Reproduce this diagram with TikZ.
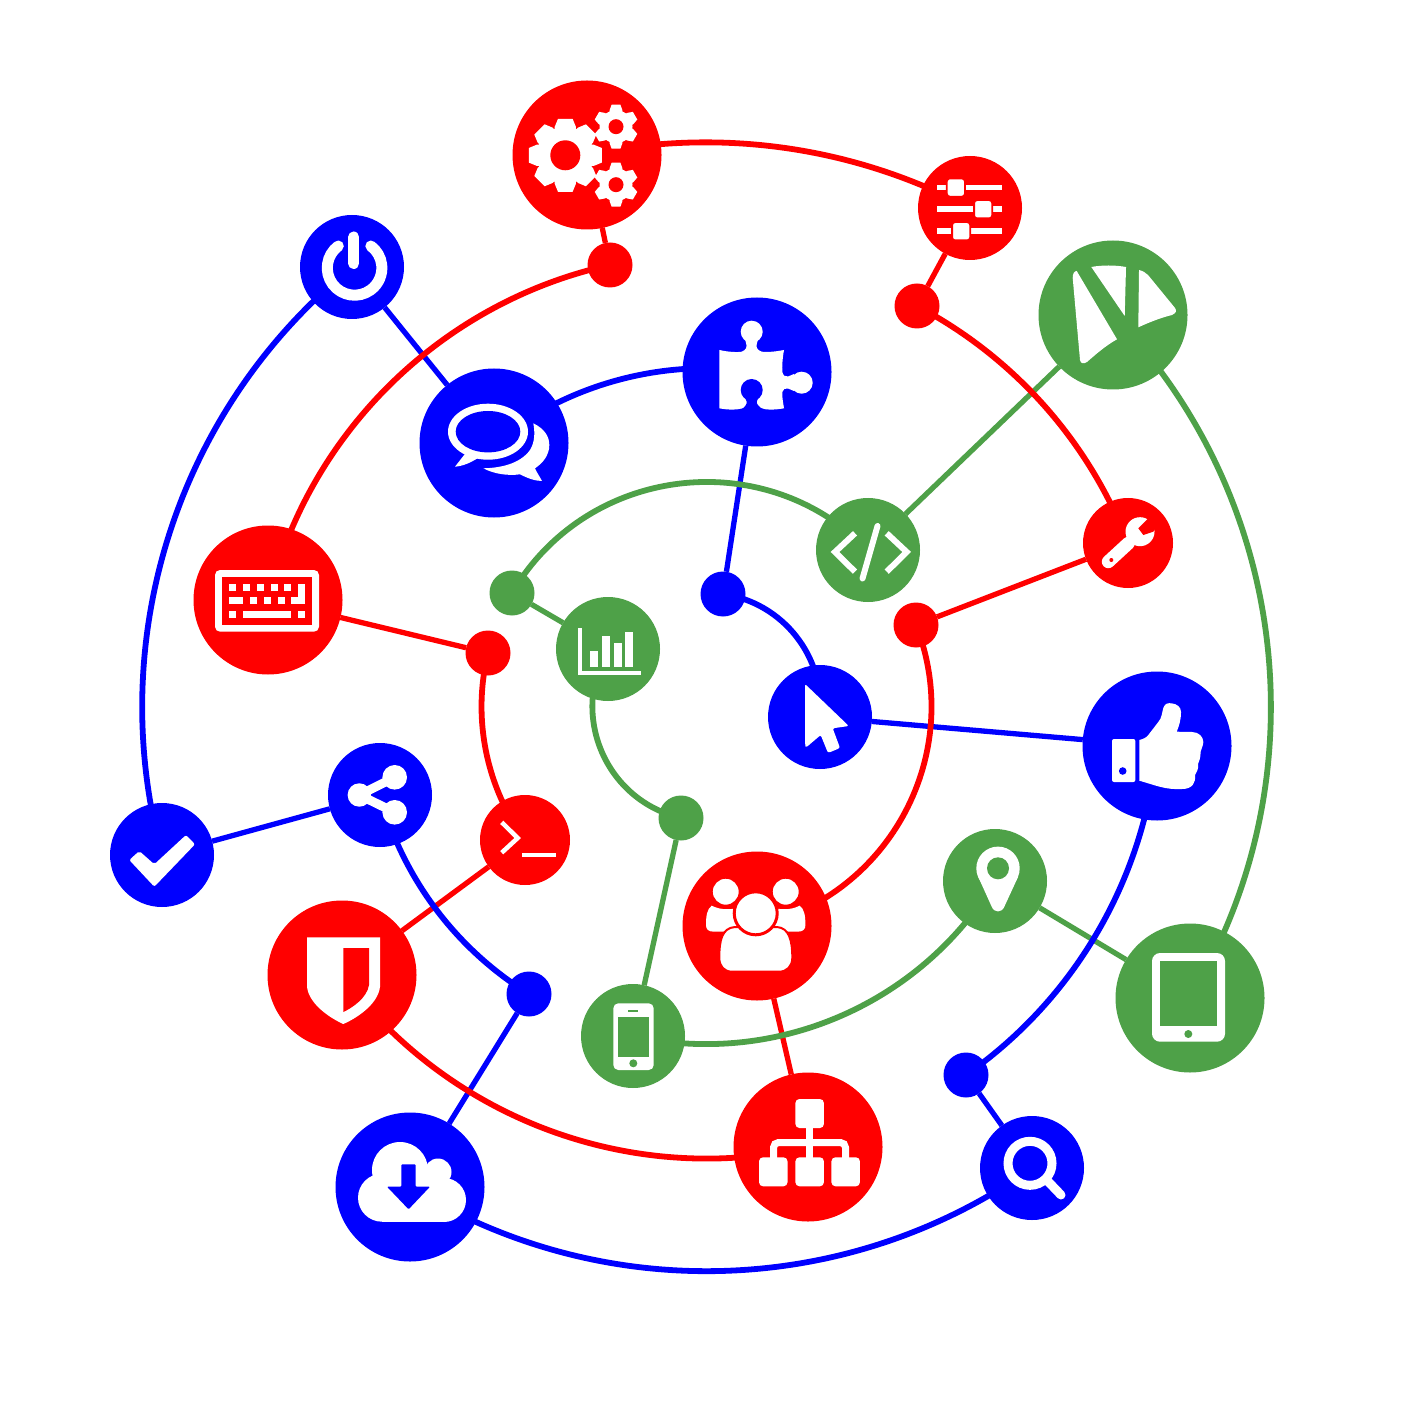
\documentclass[tikz,border=0pt]{standalone}
\usepackage{xcolor}
\usepackage{tikz}
\usetikzlibrary{backgrounds}
\definecolor{hubgreen}{HTML}{4EA148}
\def\pxw{0.5pt}
\tikzset{
	hub/.style={circle, inner sep=0pt, outer sep=0pt, draw=none, fill=#1},
	hubbig/.style={hub=#1, minimum size=149*\pxw},
	hubmid/.style={hub=#1, minimum size=104*\pxw},
	hubsmall/.style={hub=#1, minimum size=90*\pxw},
	hubdot/.style={hub=#1, minimum size=45*\pxw},
	wire/.style={draw=#1, line width=5.3*\pxw},
	orbit/.style={draw=#1, line width=5.8*\pxw},
	icon/.style={fill=white, draw=none},
	iconline/.style={draw=white, line width=#1*\pxw}
}
\newcommand{\cog}[6]{
	\begin{scope}[shift={(#1,#2)}]
		\fill[icon] (0,0) circle [radius=#3];
		\foreach \t in {0,#6,...,359}
			\fill[icon, rotate=\t] ({-0.29*#4},{-#3+3}) -- ({-0.29*#4},-#3) -- ({-0.2*#4},-#4) -- ({0.2*#4},-#4) -- ({0.29*#4},-#3) -- ({0.29*#4},{-#3+3}) -- cycle;
		\fill[red] (0,0) circle [radius=#5];
	\end{scope}
}
\begin{document}
\begin{tikzpicture}[x=0.5pt, y=-0.5pt]
\useasboundingbox (0,0) rectangle (1415,1416);
\foreach \name/\col/\x/\y in {gears/red/587/155, vivaldi/hubgreen/1113/315, chat/blue/494/443, puzzle/blue/757/372, keyboard/red/268/600, thumbs/blue/1157/746, shield/red/342/975, people/red/757/926, tablet/hubgreen/1190/998, download/blue/410/1187, sitemap/red/808/1147}
	\node[hubbig=\col] (\name) at (\x,\y) {};
\foreach \name/\col/\x/\y in {sliders/red/970/208, power/blue/352/267, code/hubgreen/868/550, chart/hubgreen/608/649, cursor/blue/820/717, check/blue/162/855, share/blue/380/795, phone/hubgreen/633/1036, pin/hubgreen/995/881, search/blue/1032/1168}
	\node[hubmid=\col] (\name) at (\x,\y) {};
\foreach \name/\col/\x/\y in {wrench/red/1128/543, terminal/red/525/840}
	\node[hubsmall=\col] (\name) at (\x,\y) {};
\foreach \name/\col/\x/\y in {gearsdot/red/610/265, slidersdot/red/917/306, wrenchdot/red/916/625, keyboarddot/red/488/653, chartdot/hubgreen/512/593, cursordot/blue/723/594, phonedot/hubgreen/681/818, downloaddot/blue/529/994, searchdot/blue/966/1075}
	\node[hubdot=\col] (\name) at (\x,\y) {};
\begin{scope}[on background layer]
\fill[white] (0,0) rectangle (1415,1416);
\foreach \a/\b/\col in {power/chat/blue, puzzle/cursordot/blue, cursor/thumbs/blue, check/share/blue, downloaddot/download/blue, searchdot/search/blue, gears/gearsdot/red, sliders/slidersdot/red, wrench/wrenchdot/red, keyboard/keyboarddot/red, terminal/shield/red, people/sitemap/red, chart/chartdot/hubgreen, code/vivaldi/hubgreen, pin/tablet/hubgreen, phone/phonedot/hubgreen}
	\draw[wire=\col] (\a) -- (\b);
\foreach \a/\b/\arcspan/\col in {check/power/66.3/blue, gears/sliders/40.1/red, vivaldi/tablet/75.1/hubgreen, search/download/66.9/blue, keyboard/gearsdot/63.9/red, slidersdot/wrench/41.1/red, thumbs/searchdot/49.9/blue, sitemap/shield/66.6/red, chat/puzzle/47.4/blue, downloaddot/share/43.1/blue, pin/phone/71.6/hubgreen, chartdot/code/105.4/hubgreen, wrenchdot/people/98.5/red, terminal/keyboarddot/50/red, phonedot/chart/107.2/hubgreen, cursordot/cursor/87/blue} {
	\pgfmathsetmacro\halfspan{\arcspan/2}
	\pgfmathsetmacro\loose{4/3*tan(\arcspan/4)/(2*sin(\arcspan/2))/0.3915}
	\draw[orbit=\col] (\a.center) to[bend left=\halfspan, looseness=\loose] (\b.center);
}
\end{scope}
\cog{565.3}{155.3}{28.5}{36.5}{15}{45}
\cog{616}{126.7}{16.5}{22}{7.5}{60}
\cog{616}{184.7}{16.5}{22}{7.5}{60}
\foreach \y in {187.7,209.3,231}
	\fill[icon] (937,\y-2.8) rectangle (1002,\y+2.8);
\foreach \x/\y in {947.7/179.3, 975/201, 953/223}
	\filldraw[fill=white, draw=red, line width=0.9pt, rounded corners=1.5pt] (\x-0.9,\y-0.9) rectangle (\x+17.2,\y+17.4);
\fill[icon] (1072.7,278) .. controls (1072.7,274) and (1074,271) .. (1076.7,271) -- (1117,339.3) .. controls (1105,346) and (1095,355) .. (1087,362) .. controls (1084,364) and (1080.5,364) .. (1080,360) -- cycle;
\fill[icon] (1091.3,267) .. controls (1102,265) and (1115,265) .. (1126,267) -- (1124.7,316) -- cycle;
\fill[icon] (1139,270) .. controls (1143,271) and (1146,273) .. (1148,275) -- (1175,308) .. controls (1177,311) and (1176,313) .. (1172,315) .. controls (1160,318) and (1150,322) .. (1138.3,327.3) -- cycle;
\draw[iconline=11, line cap=round] (338.3,246) arc [start angle=233.4, end angle=-53.4, radius=27.3, x radius=27.3, y radius=27.3];
\draw[iconline=11, line cap=round] (353.7,237) -- (353.7,263.5);
\fill[icon] (533.3,423.3) .. controls (545,429) and (549.3,437) .. (549.3,445) .. controls (549.3,455) and (543,463) .. (535,468.3) .. controls (537,473) and (540,477) .. (542,481) .. controls (535,481) and (527,478) .. (520,474.3) .. controls (508,476) and (494,474) .. (483.3,468.3) .. controls (500,468) and (520,464) .. (530,450) .. controls (535,442) and (535,432) .. (533.3,423.3) -- cycle;
\fill[icon] (488,431.7) circle [x radius=40, y radius=28];
\fill[icon] (468,450) -- (455,466.7) .. controls (463,466) and (470,463) .. (478,458) -- cycle;
\fill[blue] (488,431.7) circle [x radius=32.3, y radius=20.7];
\fill[icon] (719.3,350) .. controls (728,352) and (738,352.5) .. (741.7,351.7) .. controls (746,350) and (747.5,347) .. (746,343) -- (744,335) -- (759.5,335) -- (757,343) .. controls (755.5,347) and (757,350) .. (761.7,351.7) .. controls (768,352.5) and (776,351.5) .. (784,350) .. controls (782.5,358) and (782,366) .. (782.3,371.7) .. controls (783,375.5) and (785,377) .. (788,376.5) -- (794,374) -- (794,391) -- (788,388.5) .. controls (785,388) and (783,389) .. (782.3,392) .. controls (782,397) and (783,402) .. (784,408.3) .. controls (775,410) and (766,410) .. (761.7,408.3) -- (743,408.3) .. controls (736,410) and (728,410) .. (719.3,408.3) -- cycle;
\fill[icon] (751.7,331.7) circle [radius=11];
\fill[icon] (801.7,382.7) circle [radius=11];
\fill[blue] (751.7,390) circle [radius=11];
\fill[blue] (744,395) -- (746.7,401.7) .. controls (747,404) and (745,407) .. (742,409) -- (762.5,409) .. controls (759,407) and (756.5,404) .. (756.7,401.7) -- (759.5,395) -- cycle;
\fill[icon, rounded corners=2.5pt] (215,570) rectangle (319,631.7);
\fill[red] (222,577) rectangle (312,624.7);
\foreach \x in {229,243,256.7,270.7,284.3}
	\fill[icon] (\x,584) rectangle (\x+7,590.7);
\foreach \x/\w in {229/14, 249.7/7, 263.7/7, 277.7/7, 291.3/14}
	\fill[icon] (\x,597.3) rectangle (\x+\w,604.3);
\fill[icon] (298.3,584) rectangle (305.3,604.3);
\foreach \x/\w in {229/7, 243/48.3, 298.3/7}
	\fill[icon] (\x,611) rectangle (\x+\w,618);
\fill[icon] (578.3,627.7) rectangle (582,675);
\fill[icon] (578.3,671.3) rectangle (641,675);
\foreach \x/\y in {590/651.3, 601.7/635.7, 613.7/643.3, 625.3/631.7}
	\fill[icon] (\x,\y) rectangle (\x+8,667);
\draw[iconline=6, miter limit=10] (855,533.3) -- (835,552) -- (855,571.7);
\draw[iconline=6, miter limit=10] (886.7,533.3) -- (906.7,552) -- (886.7,571.7);
\draw[iconline=6, line cap=round] (877.5,526) -- (862.5,578.5);
\fill[icon, rounded corners=1pt] (805,684) -- (848.8,726) -- (832.7,728.3) -- (840,748) -- (828,753) -- (820.7,735) -- (806,747.5) -- (805,745) -- cycle;
\draw[iconline=13, line cap=round] (1108.3,561.7) -- (1128.3,543.3);
\fill[icon] (1140,531.7) circle [radius=14.5];
\fill[red] (1148.3,518.3) -- (1138.3,528.3) -- (1143.3,535) -- (1153.3,531.7) -- (1160,522) -- (1155,514) -- cycle;
\fill[red] (1111.3,560) circle [radius=2];
\fill[icon, rounded corners=1pt] (1112,739) rectangle (1135.3,782);
\fill[blue] (1122.7,771) circle [radius=3.8];
\fill[icon] (1139.3,740) .. controls (1143,739) and (1146,738) .. (1148.3,735) -- (1158.3,722) .. controls (1162,718) and (1162,712) .. (1163.3,708) .. controls (1165,703) and (1168,703) .. (1171.7,703.3) .. controls (1177,704) and (1181,707) .. (1181,712) .. controls (1181,720) and (1179,726) .. (1176.7,731.7) -- (1192,732) .. controls (1199,732) and (1203.3,737) .. (1203.3,742) .. controls (1203.3,746) and (1201,749) .. (1200.5,752) .. controls (1201,757) and (1199,761) .. (1198,764) .. controls (1199,769) and (1196,773) .. (1195,775) .. controls (1196,783) and (1192,789) .. (1182,789) .. controls (1165,790) and (1155,785) .. (1139.3,780.7) -- cycle;
\fill[icon, rounded corners=1pt] (129.3,860) -- (139.3,851) -- (154.3,864.3) -- (186,835) -- (195,844.3) -- (154.3,886.7) -- cycle;
\draw[iconline=9] (359.3,795) -- (394.7,777.3);
\draw[iconline=9] (359.3,795) -- (394.7,812.3);
\fill[icon] (359.3,795) circle [radius=11.7];
\foreach \y in {777.3,812.3}
	\fill[icon] (394.7,\y) circle [radius=12.3];
\draw[iconline=4.5] (501.7,822.3) -- (517.7,838) -- (501.7,852.7);
\fill[icon] (521.7,852.7) rectangle (556,856.7);
\fill[icon] (307,937.3) -- (380,937.3) -- (380,986.7) .. controls (378,1005) and (355,1019) .. (343.3,1024) .. controls (332,1019) and (309,1005) .. (307,986.7) -- cycle;
\fill[red] (343.3,948) -- (369,948) -- (369,985) .. controls (367,998) and (352,1008) .. (343.3,1012) -- cycle;
\fill[icon, rounded corners=2.5pt] (613.3,1003.3) rectangle (653.7,1070);
\fill[hubgreen] (618.3,1016.7) rectangle (649,1056.7);
\fill[hubgreen] (628.3,1010) rectangle (638.3,1011.5);
\fill[hubgreen] (633.3,1063.3) circle [radius=4];
\fill[icon] (711.7,905.7) .. controls (722,911) and (732,909) .. (740,908) -- (745,925) -- (733,931.7) -- (714,931.7) .. controls (708,931.7) and (706,929) .. (706,925) .. controls (706,916) and (707,909) .. (711.7,905.7) -- cycle;
\fill[icon] (799.7,905.7) .. controls (789.4,911) and (779.4,909) .. (771.4,908) -- (766.4,925) -- (778.4,931.7) -- (797.4,931.7) .. controls (803.4,931.7) and (805.4,929) .. (805.4,925) .. controls (805.4,916) and (804.4,909) .. (799.7,905.7) -- cycle;
\filldraw[fill=white, draw=red, line width=1pt] (725.7,891.7) circle [radius=14];
\filldraw[fill=white, draw=red, line width=1pt] (785.7,891.7) circle [radius=14];
\filldraw[fill=white, draw=red, line width=1pt] (732,971.7) .. controls (724,971.7) and (719.3,966) .. (719.3,958) .. controls (719.3,940) and (722,928) .. (735,927) -- (777,927) .. controls (789,928) and (792.3,940) .. (792.3,958) .. controls (792.3,966) and (787,971.7) .. (779,971.7) -- cycle;
\filldraw[fill=white, draw=red, line width=1.5pt] (755.7,913.3) circle [radius=21.5];
\fill[icon] (998,868.3) circle [radius=21.7];
\fill[icon] (978.3,877) -- (991.7,906.7) .. controls (994,913) and (1002,913) .. (1004.3,906.7) -- (1018,877) -- cycle;
\fill[hubgreen] (998,868.3) circle [radius=11];
\fill[icon, rounded corners=4pt] (1152,953) rectangle (1225,1041.7);
\fill[hubgreen] (1160,961) rectangle (1217,1025.7);
\fill[hubgreen] (1188.3,1034) circle [radius=4];
\fill[icon] (400,1170) circle [radius=28];
\fill[icon] (438,1172) circle [radius=13.5];
\fill[icon] (382,1197.7) circle [radius=24];
\fill[icon] (444,1200) circle [radius=22];
\fill[icon] (382,1175) rectangle (444,1221.7);
\fill[blue, rounded corners=0.5pt] (401.4,1164.3) -- (415.7,1164.3) -- (415.7,1186.7) -- (430,1186.7) -- (408.6,1209.3) -- (387,1186.7) -- (401.4,1186.7) -- cycle;
\foreach \x/\y in {795.4/1099, 759/1157.3, 795.4/1157.3, 831.4/1157.3}
	\fill[icon, rounded corners=2pt] (\x,\y) rectangle (\x+28.5,\y+29);
\draw[iconline=7] (809.7,1128) -- (809.7,1158);
\draw[iconline=7, rounded corners=2.5pt] (773.5,1158) -- (773.5,1142.5) -- (845.5,1142.5) -- (845.5,1158);
\draw[iconline=9] (1030,1163.3) circle [radius=22];
\draw[iconline=9, line cap=round] (1048.3,1181.7) -- (1061,1195);
\end{tikzpicture}
\end{document}
